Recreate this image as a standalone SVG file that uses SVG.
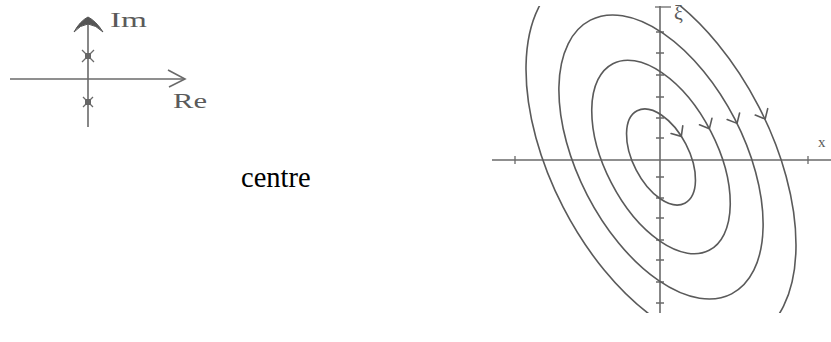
<svg xmlns="http://www.w3.org/2000/svg" width="831" height="342" viewBox="0 0 831 342">
<style>
.ln{fill:none;stroke:#5a5a5a;stroke-width:1.6;stroke-linecap:round;stroke-linejoin:round}
.ax{fill:none;stroke:#6a6a6a;stroke-width:1.6}
.tk{fill:none;stroke:#6a6a6a;stroke-width:1.3}
.lab{font-family:"Liberation Serif","Times New Roman",serif;fill:#5a5a5a}
</style>
<defs>
<clipPath id="clipOuter" clipPathUnits="userSpaceOnUse"><rect x="480" y="6" width="351" height="307"/></clipPath>
</defs>
<rect width="831" height="342" fill="#ffffff"/>

<g id="argand-plane">
  <line class="ax" x1="10" y1="79" x2="184" y2="79"/>
  <path class="ax" d="M168,70 L185,79 L169,87"/>
  <line class="ax" x1="88" y1="22" x2="88" y2="127"/>
  <path d="M74,32 Q80,21 88,17 Q96,21 103,32 Q96,25 88,24 Q80,25 74,32 Z" fill="#555" stroke="#555" stroke-width="1"/>
  <path class="tk" d="M82,50 L94,62 M94,50 L82,62"/>
  <path class="tk" d="M83,97 L93,107 M93,97 L83,107"/>
  <rect x="85" y="53" width="6" height="6" fill="#666"/>
  <rect x="85" y="99" width="6" height="6" fill="#666"/>
  <text class="lab" x="110" y="27" font-size="21" textLength="37" lengthAdjust="spacingAndGlyphs">Im</text>
  <text class="lab" x="173" y="108" font-size="21" textLength="34" lengthAdjust="spacingAndGlyphs">Re</text>
</g>

<g id="caption">
  <text x="241" y="187" font-family="Liberation Serif, Times New Roman, serif" font-size="28.5" fill="#000">centre</text>
</g>

<g id="phase-portrait">
  <g id="axes">
    <line class="ax" x1="492" y1="160" x2="831" y2="160"/>
    <line class="ax" x1="660" y1="6" x2="660" y2="313"/>
    <line class="tk" x1="655" y1="7" x2="671" y2="7"/>
    <path class="tk" d="M515,156 V164 M808,156 V164"/>
    <path class="tk" d="M656,32 H664 M656,53 H664 M656,75 H664 M656,97 H664 M656,118 H664 M656,138 H664 M656,177 H664 M656,198 H664 M656,218 H664 M656,240 H664 M656,260 H664 M656,282 H664 M656,303 H664"/>
    <text class="lab" x="674" y="20" font-size="20">ξ</text>
    <text class="lab" x="818" y="147" font-size="15">x</text>
  </g>
  <g id="trajectories">
    <g clip-path="url(#clipOuter)">
      <ellipse class="ln" cx="0" cy="0" rx="203" ry="110" transform="translate(661,157) rotate(62.7)"/>
    </g>
    <g transform="translate(661,157) rotate(62.7)">
      <ellipse class="ln" cx="0" cy="0" rx="154" ry="83"/>
      <ellipse class="ln" cx="0" cy="0" rx="105" ry="56"/>
      <ellipse class="ln" cx="0" cy="0" rx="52" ry="28"/>
      <path class="ln" d="M-8,-7 L0,0 L-8,7" transform="translate(-9,-27.5) rotate(-6)"/>
      <path class="ln" d="M-8,-7 L0,0 L-8,7" transform="translate(-3,-56)"/>
      <path class="ln" d="M-8,-7 L0,0 L-8,7" transform="translate(5,-83)"/>
      <path class="ln" d="M-8,-7 L0,0 L-8,7" transform="translate(14,-110)"/>
    </g>
  </g>
</g>
</svg>
